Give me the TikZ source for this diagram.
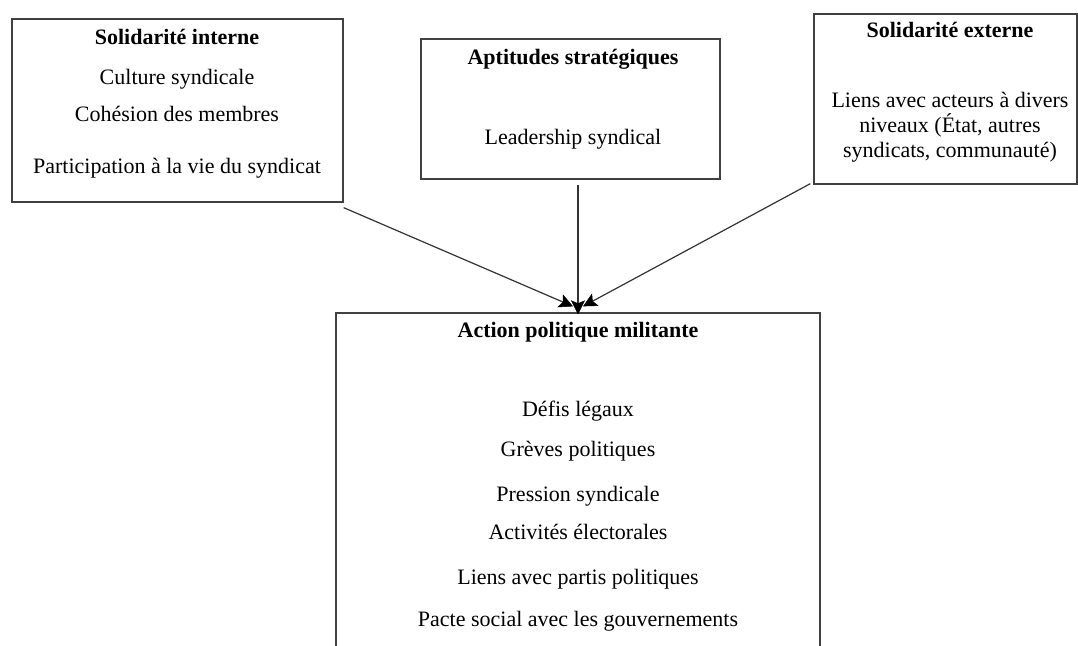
\documentclass[tikz,border=0pt]{standalone}
\usepackage{fontspec}
\setmainfont{Liberation Serif}
\usetikzlibrary{arrows.meta}
\begin{document}
\begin{tikzpicture}[x=1pt,y=-1pt,
  box/.style={draw=black!75, line width=1.3pt, rectangle, inner sep=0pt},
  lbl/.style={anchor=base, inner sep=0pt, font=\fontsize{22}{25}\selectfont},
  ttl/.style={anchor=base, inner sep=0pt, font=\fontsize{22}{25}\selectfont\bfseries},
  conn/.style={draw=black!80, line width=1.2pt, -{Stealth[length=14pt,width=14pt,inset=3pt,color=black,line width=0.5pt]}}]
\useasboundingbox (0,0) rectangle (1078,645);
\clip (0,0) rectangle (1078,645);
% boxes
\node[box, minimum width=331pt, minimum height=183pt] (b1) at (177.5,110.5) {};
\node[box, minimum width=299pt, minimum height=140pt] (b2) at (570.5,109) {};
\node[box, minimum width=263pt, minimum height=170pt] (b3) at (945.5,99) {};
\node[box, minimum width=484pt, minimum height=387pt] (b4) at (578,506.5) {};
% box 1 texts
\node[ttl] (t1a) at (177,44) {Solidarité interne};
\node[lbl] (t1b) at (177,84) {Culture syndicale};
\node[lbl] (t1c) at (177,121) {Cohésion des membres};
\node[lbl] (t1d) at (177,173) {Participation à la vie du syndicat};
% box 2 texts
\node[ttl] (t2a) at (573,64) {Aptitudes stratégiques};
\node[lbl] (t2b) at (573,144) {Leadership syndical};
% box 3 texts
\node[ttl] (t3a) at (950,37) {Solidarité externe};
\node[lbl] (t3b) at (950,107) {Liens avec acteurs à divers};
\node[lbl] (t3c) at (950,132) {niveaux (État, autres};
\node[lbl] (t3d) at (950,157) {syndicats, communauté)};
% box 4 texts
\node[ttl] (t4a) at (578,337) {Action politique militante};
\node[lbl] (t4b) at (578,416) {Défis légaux};
\node[lbl] (t4c) at (578,456) {Grèves politiques};
\node[lbl] (t4d) at (578,501) {Pression syndicale};
\node[lbl] (t4e) at (578,539) {Activités électorales};
\node[lbl] (t4f) at (578,584) {Liens avec partis politiques};
\node[lbl] (t4g) at (578,626) {Pacte social avec les gouvernements};
% connector end points
\coordinate (s1) at ([yshift=-5pt]b1.south east);
\coordinate (s2) at ([xshift=7.5pt,yshift=-5pt]b2.south);
\coordinate (s3) at ([xshift=-3pt,yshift=1pt]b3.south west);
\coordinate (e1) at ([xshift=-5pt,yshift=6pt]b4.north);
\coordinate (e2) at ([yshift=-2pt]b4.north);
\coordinate (e3) at ([xshift=5pt,yshift=6pt]b4.north);
\draw[conn] (s1) -- (e1);
\draw[conn] (s2) -- (e2);
\draw[conn] (s3) -- (e3);
\end{tikzpicture}
\end{document}
